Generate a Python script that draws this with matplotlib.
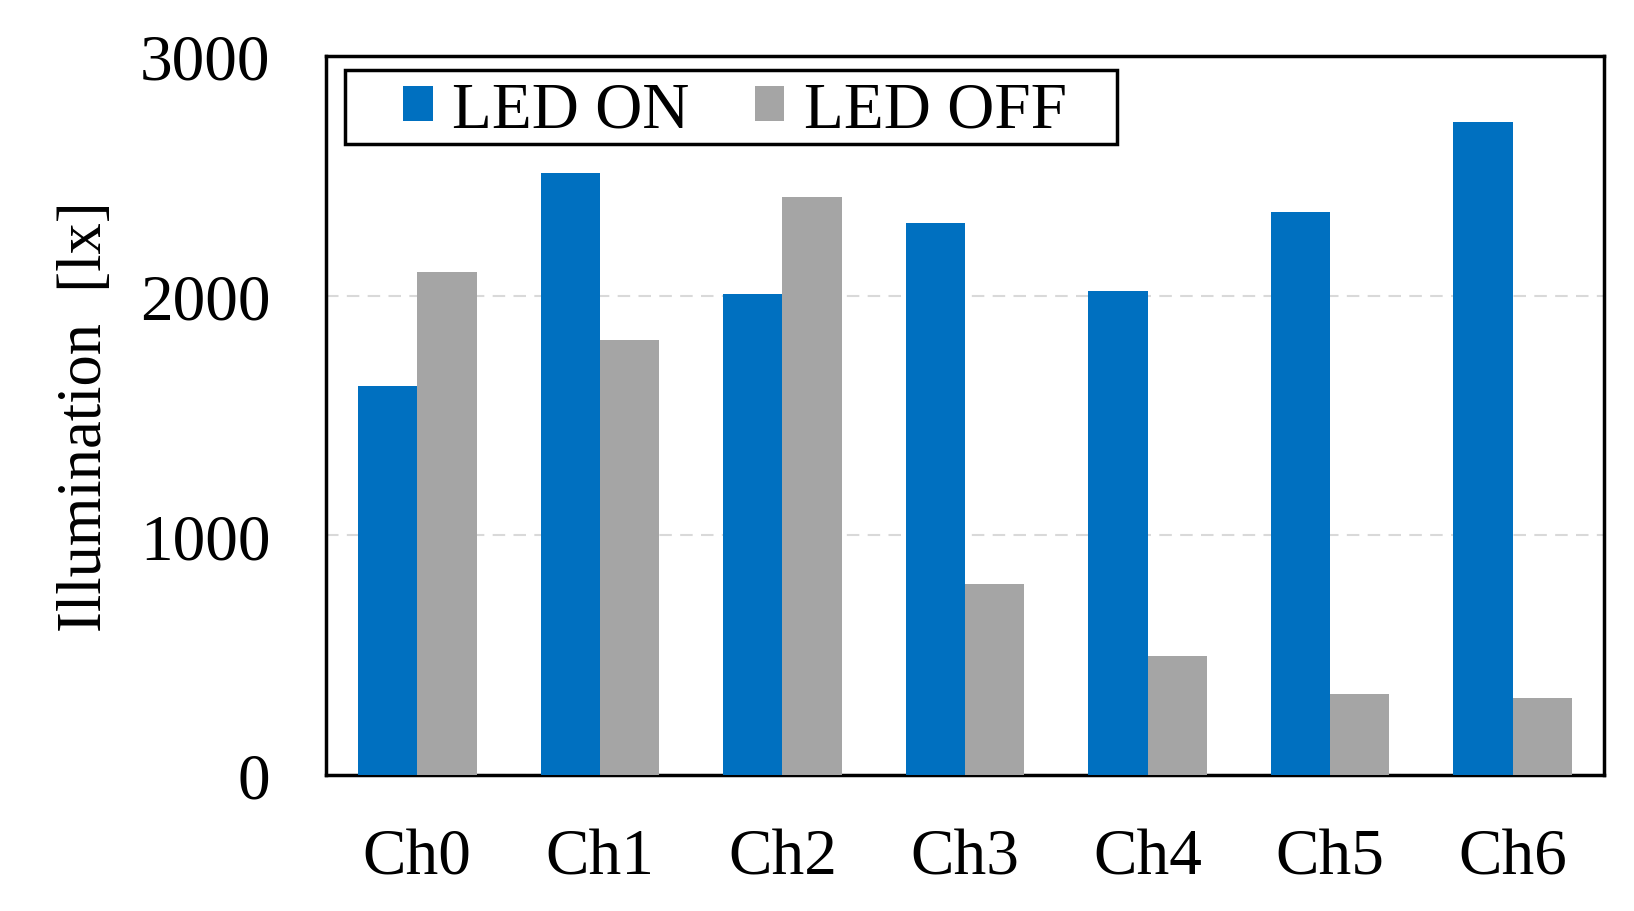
import numpy as np
import matplotlib.pyplot as plt
from matplotlib.patches import Rectangle

channels = ['Ch0', 'Ch1', 'Ch2', 'Ch3', 'Ch4', 'Ch5', 'Ch6']
led_on = [1625, 2510, 2005, 2305, 2020, 2350, 2725]
led_off = [2100, 1815, 2410, 795, 495, 340, 320]

plt.rcParams['font.family'] = ['Liberation Serif', 'DejaVu Serif']

fig = plt.figure(figsize=(16.34, 9.12), dpi=100)
ax = fig.add_axes([326/1634, 1-776/912, (1604-326)/1634, (776-57)/912])

x = np.arange(len(channels))
w = 0.325
ax.bar(x - w/2, led_on, w, color='#0070C0', label='LED ON', zorder=3)
ax.bar(x + w/2, led_off, w, color='#A5A5A5', label='LED OFF', zorder=3)

ax.set_xlim(-0.5, 6.5)
ax.set_ylim(0, 3000)
ax.set_yticks([0, 1000, 2000, 3000])
ax.set_xticks(x)
ax.set_xticklabels(channels)
ax.tick_params(axis='both', length=0, labelsize=47)
ax.tick_params(axis='y', pad=40)
ax.tick_params(axis='x', pad=38)
for s in ax.spines.values():
    s.set_linewidth(2.5)
ax.yaxis.grid(True, linestyle=(0, (6, 4)), color='#D9D9D9', linewidth=1.5, zorder=0)
ax.set_ylabel('Illumination  [lx]', fontsize=45, labelpad=18)

# legend frame drawn separately so the inner padding can be wider than tall
ax.add_patch(Rectangle((0.0147, 0.877), 0.604, 0.104, transform=ax.transAxes,
                       facecolor='white', edgecolor='black', linewidth=2.5, zorder=5))
leg = ax.legend(loc='center', ncol=2, fontsize=47, frameon=False,
                handlelength=0.45, handleheight=0.45, handletextpad=0.3,
                columnspacing=1.0, borderpad=0, borderaxespad=0,
                bbox_to_anchor=(0.320, 0.924))
leg.set_zorder(6)

fig.savefig('out.png', dpi=100)
